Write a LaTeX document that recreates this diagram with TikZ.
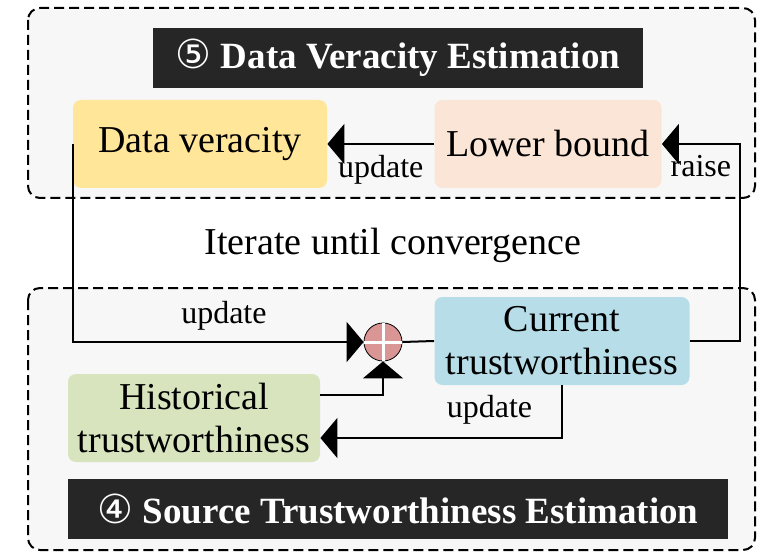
\documentclass[tikz,border=0pt]{standalone}
\usepackage{fontspec}
\setmainfont{Liberation Serif}
\newfontfamily\circfont{DejaVu Sans}
\usetikzlibrary{arrows.meta}

\definecolor{darkbg}{HTML}{262626}
\definecolor{groupbg}{HTML}{F7F7F7}
\definecolor{veracity}{HTML}{FFE699}
\definecolor{bound}{HTML}{FBE5D6}
\definecolor{current}{HTML}{B7DEE8}
\definecolor{history}{HTML}{D7E4BD}
\definecolor{sumred}{HTML}{D99694}

\newcommand{\stagenum}[1]{{\circfont\mdseries\fontsize{20}{20}\selectfont #1}}

\tikzstyle{group} = [draw=black, 
line width=1pt, 
dash pattern=on 5pt off 2.5pt, 
rounded corners=6pt, 
fill=groupbg]
\tikzstyle{title} = [rectangle, 
fill=darkbg, 
text=white, 
font=\fontsize{18.5}{20}\selectfont\bfseries, 
minimum height=30pt, 
text centered]
\tikzstyle{process} = [rectangle, rounded corners=4pt, 
minimum width=127pt, 
minimum height=44pt, 
text centered, 
align=center, 
font=\fontsize{19}{21.5}\selectfont]
\tikzstyle{label} = [font=\fontsize{16}{18}\selectfont]
\tikzstyle{line} = [line width=1pt]
\tikzstyle{arrow} = [line width=1pt, -{Triangle[length=8.5pt,width=20pt]}]

\begin{document}
\begin{tikzpicture}[x=0.5pt, y=-0.5pt]
\useasboundingbox (0,0) rectangle (769,555);

% two stages
\draw[group] (28,8) rectangle (755,198);
\draw[group] (28,288) rectangle (755,550);

\node (title5) [title, minimum width=245pt] at (398,58) {\stagenum{⑤} Data Veracity Estimation};
\node (title4) [title, minimum width=330pt] at (398,509) {\stagenum{④} Source Trustworthiness Estimation};

\node (veracity) [process, fill=veracity] at (200,144) {Data veracity};
\node (bound) [process, fill=bound, minimum width=113.5pt] at (548,144) {Lower bound};
\node (current) [process, fill=current, minimum width=127.5pt] at (562,341) {Current\\trustworthiness};
\node (history) [process, fill=history, minimum width=126pt] at (194,418) {Historical\\trustworthiness};

\node (iterate) [font=\fontsize{19}{21}\selectfont] at (393,245) {Iterate until convergence};

\node (sum) [circle, draw=black, thin, fill=sumred, minimum size=19pt, inner sep=0pt] at (383,342) {};
\draw[white, line width=1.5pt] (sum.north) -- (sum.south);
\draw[white, line width=1.5pt] (sum.west) -- (sum.east);

\draw [arrow] (bound) -- node[label, below, yshift=-2pt] {update} (veracity);
\draw [arrow] (current.east) -- ++(50,0) |- node[label, pos=0.75, below, yshift=-2pt] {raise} (bound.east);
\draw [arrow] (veracity.west) |- node[label, pos=0.76, above, yshift=2pt] {update} (sum.west);
\draw [line] (current.west) -- (sum.east);
\draw [arrow] (history.east) ++(0,-23) -| (sum.south);
\draw [arrow] (current.south) |- node[label, pos=0.65, above, yshift=3pt] {update} ([yshift=-10pt]history.east);

\end{tikzpicture}
\end{document}
